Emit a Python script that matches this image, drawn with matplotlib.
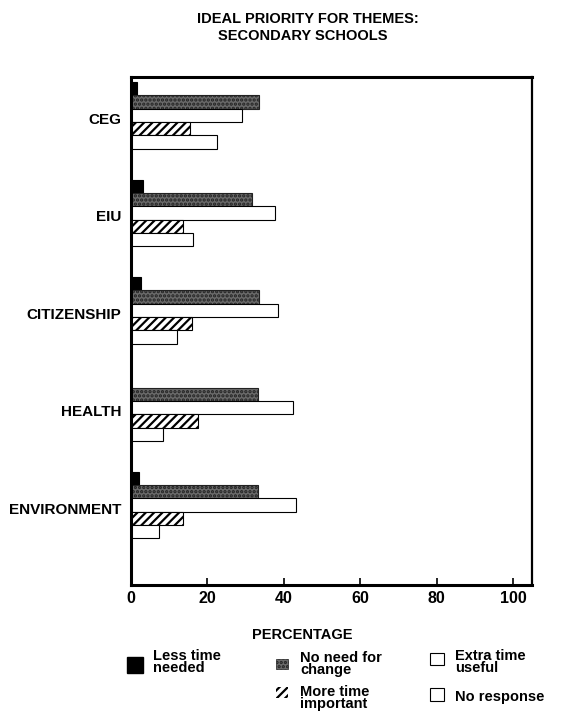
import matplotlib
matplotlib.use("Agg")
import matplotlib.pyplot as plt
from matplotlib.patches import Rectangle
import numpy as np

plt.rcParams['font.family'] = ['Liberation Sans', 'DejaVu Sans']
plt.rcParams['font.weight'] = 'bold'
plt.rcParams['hatch.linewidth'] = 1.6

categories = ["CEG", "EIU", "CITIZENSHIP", "HEALTH", "ENVIRONMENT"]
less_time = [1.5, 3.2, 2.5, 0.0, 2.1]
no_need = [33.5, 31.6, 33.5, 33.3, 33.3]
extra_time = [29, 37.7, 38.5, 42.5, 43.2]
more_time = [15.4, 13.7, 15.9, 17.6, 13.5]
no_response = [22.6, 16.3, 12.0, 8.4, 7.4]
x_ticks = [0, 20, 40, 60, 80, 100]

series = [
    (less_time, dict(color='black', edgecolor='black')),
    (no_need, dict(color='#6a6a6a', edgecolor='#222222', hatch='....')),
    (extra_time, dict(color='white', edgecolor='black')),
    (more_time, dict(color='white', edgecolor='black', hatch='////')),
    (no_response, dict(color='white', edgecolor='black')),
]

W, H = 563, 728
fig = plt.figure(figsize=(W / 100, H / 100), dpi=100)
ax = fig.add_axes([131 / W, 1 - 585 / H, (532 - 131) / W, (585 - 77) / H])

h = 0.137
y = np.arange(len(categories))
for k, (vals, style) in enumerate(series):
    ax.barh(y + (k - 2) * h, vals, height=h, linewidth=0.8, **style)

ax.set_xlim(0, 105)
ax.set_ylim(4 + 0.82, -0.395)
ax.set_xticks(x_ticks)
ax.set_xticklabels([str(t) for t in x_ticks], fontsize=11.5, fontweight='bold')
ax.set_yticks(y + 0.03)
ax.set_yticklabels(categories, fontsize=11, fontweight='bold')
ax.tick_params(axis='y', length=0, pad=7)
ax.tick_params(axis='x', direction='in', length=5, width=1.2, pad=4)
for side in ['left', 'bottom', 'top']:
    ax.spines[side].set_linewidth(2.2)
ax.spines['right'].set_linewidth(1.6)

fig.text(308 / W, 1 - 19 / H, "IDEAL PRIORITY FOR THEMES:", ha='center', va='center', fontsize=10.5, fontweight='bold')
fig.text(303 / W, 1 - 36 / H, "SECONDARY SCHOOLS", ha='center', va='center', fontsize=10.5, fontweight='bold')
fig.text(302 / W, 1 - 635 / H, "PERCENTAGE", ha='center', va='center', fontsize=10.5, fontweight='bold')

# Legend (manual)
def swatch(x0, y0, w, hh, **kw):
    fig.patches.append(Rectangle((x0 / W, 1 - (y0 + hh) / H), w / W, hh / H,
                                 transform=fig.transFigure, figure=fig, **kw))

lt = dict(ha='left', va='center', fontsize=10.5, linespacing=0.8, fontweight='bold')

swatch(127, 657, 16, 16, facecolor='black', edgecolor='black')
fig.text(153 / W, 1 - 662 / H, "Less time\nneeded", **lt)

swatch(276, 659, 12, 10, facecolor='#6a6a6a', edgecolor='#222222', hatch='....', linewidth=0.5)
fig.text(300 / W, 1 - 664 / H, "No need for\nchange", **lt)

swatch(276, 687, 12, 11, facecolor='white', edgecolor='black', hatch='////', linewidth=0)
fig.text(300 / W, 1 - 698 / H, "More time\nimportant", **lt)

swatch(430, 653, 14, 12, facecolor='white', edgecolor='black', linewidth=0.8)
fig.text(455 / W, 1 - 662 / H, "Extra time\nuseful", **lt)

swatch(430, 688, 14, 13, facecolor='white', edgecolor='black', linewidth=0.8)
fig.text(455 / W, 1 - 697 / H, "No response", **lt)

fig.savefig("out.png", dpi=100)
